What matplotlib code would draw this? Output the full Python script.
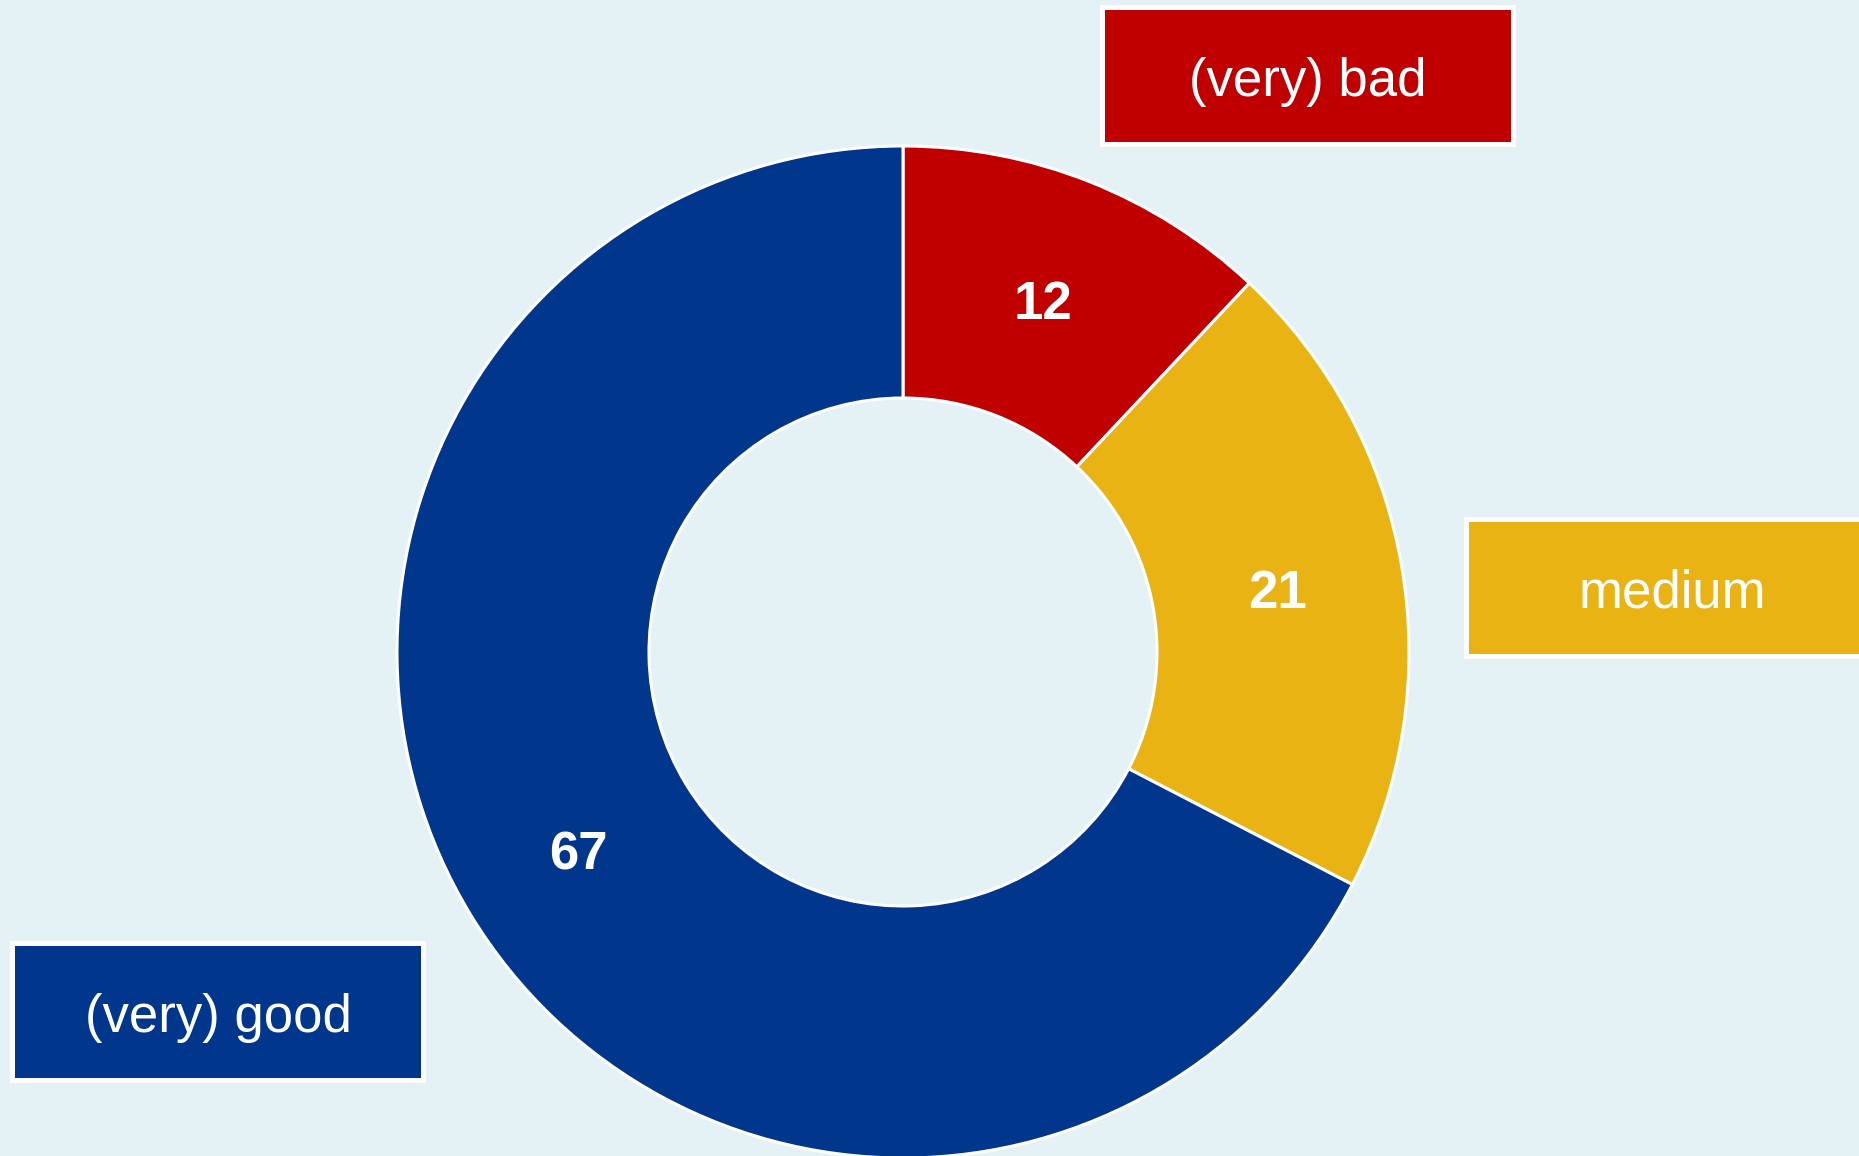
import matplotlib
matplotlib.use("Agg")
import matplotlib.pyplot as plt
from matplotlib.patches import Rectangle
import numpy as np

# data (shares; labels show them rounded)
categories = ["(very) bad", "medium", "(very) good"]
values = [12.0, 20.6, 67.4]
colors = ["#C00000", "#EAB314", "#00368C"]
# label box centres (pixel units, y from top)
box_x = [1308, 1672, 218]
box_y = [75, 587, 1011]

plt.rcParams['font.family'] = ['Liberation Sans', 'DejaVu Sans']

W, H = 1859, 1156
fig = plt.figure(figsize=(W / 100, H / 100), dpi=100)
bg = "#E4F2F6"
fig.patch.set_facecolor(bg)
ax = fig.add_axes([0, 0, 1, 1])
ax.set_facecolor(bg)

cx, cy = 903, H - 652
r_out, r_in = 506, 254

wedges, _ = ax.pie(values, colors=colors, radius=r_out, center=(cx, cy),
                   startangle=90, counterclock=False,
                   wedgeprops=dict(width=r_out - r_in, edgecolor="white", linewidth=2.2))

# value labels in the middle of each ring segment
r_mid = (r_out + r_in) / 2
for w, v in zip(wedges, values):
    ang = np.deg2rad((w.theta1 + w.theta2) / 2)
    ax.text(cx + r_mid * np.cos(ang), cy + r_mid * np.sin(ang) - 6, f"{v:.0f}",
            ha="center", va="center", color="white", fontsize=38, fontweight="bold")

# category boxes
bw, bh = 411, 137
for name, c, bx, by in zip(categories, colors, box_x, box_y):
    yy = H - by
    ax.add_patch(Rectangle((bx - bw / 2, yy - bh / 2), bw, bh, facecolor=c,
                           edgecolor="white", linewidth=3.6, clip_on=False))
    ax.text(bx, yy - 7, name, ha="center", va="center", color="white", fontsize=38)

ax.set_xlim(0, W)
ax.set_ylim(0, H)
ax.set_aspect("equal")
ax.axis("off")

fig.savefig("out.png", dpi=100, facecolor=bg)
